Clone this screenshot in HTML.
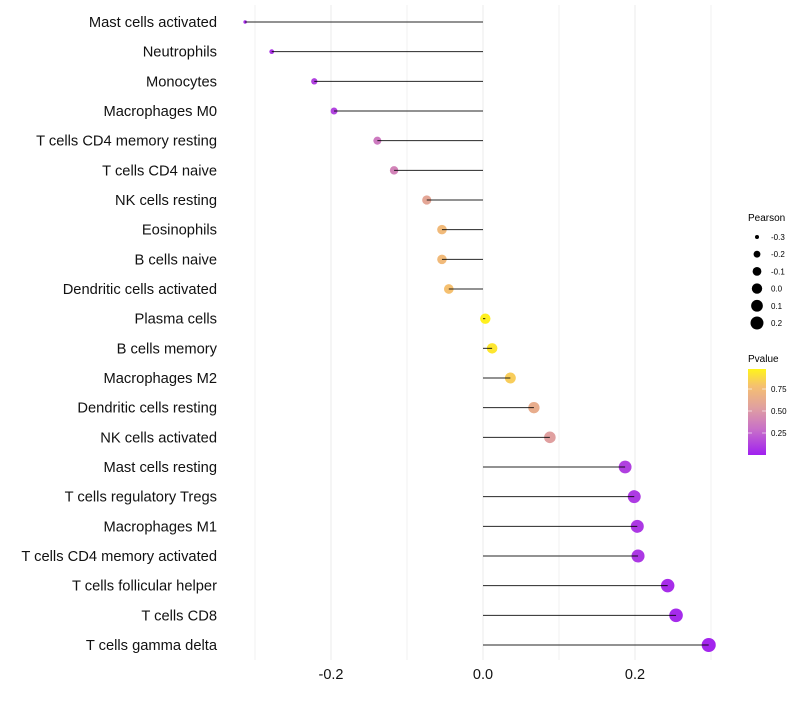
<!DOCTYPE html>
<html><head><meta charset="utf-8"><style>
body{margin:0;background:#fff;font-family:"Liberation Sans",sans-serif}
svg text{font-family:"Liberation Sans",sans-serif}
</style></head><body>
<svg id="chart" width="800" height="700" xmlns="http://www.w3.org/2000/svg">
<defs><linearGradient id="pg" x1="0" y1="1" x2="0" y2="0">
<stop offset="0" stop-color="#A020F0"/><stop offset="0.3" stop-color="#C870C8"/><stop offset="0.55" stop-color="#E0A0A0"/><stop offset="0.8" stop-color="#F5C070"/><stop offset="1" stop-color="#FFF31A"/></linearGradient></defs>
<g id="grid"></g>
<g id="marks"></g>
<g id="labels"></g>
<g id="xticks"></g>
<g id="sleg">
<text x="748" y="221" font-size="10">Pearson</text>
</g>
<g>
<text x="748" y="362" font-size="10">Pvalue</text>
<rect x="748" y="369" width="18" height="86" fill="url(#pg)"/>
<g id="cticks"></g>
</g>
</svg>
<script>
const categories=["Mast cells activated","Neutrophils","Monocytes","Macrophages M0","T cells CD4 memory resting","T cells CD4 naive","NK cells resting","Eosinophils","B cells naive","Dendritic cells activated","Plasma cells","B cells memory","Macrophages M2","Dendritic cells resting","NK cells activated","Mast cells resting","T cells regulatory  Tregs ","Macrophages M1","T cells CD4 memory activated","T cells follicular helper","T cells CD8","T cells gamma delta"];
const pearson=[-0.313,-0.278,-0.222,-0.196,-0.139,-0.117,-0.074,-0.054,-0.054,-0.045,0.003,0.012,0.036,0.067,0.088,0.187,0.199,0.203,0.204,0.243,0.254,0.297];
const pvalue=[0.05,0.08,0.12,0.13,0.35,0.4,0.6,0.75,0.75,0.8,0.99,0.95,0.85,0.65,0.55,0.12,0.1,0.09,0.09,0.05,0.04,0.02];
const xTicks=[-0.2,0.0,0.2];
const xMinor=[-0.3,-0.1,0.1,0.3];
const sizeLegend=[-0.3,-0.2,-0.1,0.0,0.1,0.2];
const colorTicks=[0.25,0.5,0.75];
const NS="http://www.w3.org/2000/svg";
const X=v=>483+v*760;
const Y=i=>22+i*(623/21);
const R=v=>Math.sqrt(Math.max(1,76.2*(v+0.3525)));
const stops=[[0,[160,32,240]],[0.3,[200,112,200]],[0.55,[224,160,160]],[0.8,[245,192,112]],[1,[255,243,26]]];
function col(p){for(let i=1;i<stops.length;i++){if(p<=stops[i][0]){const a=stops[i-1],b=stops[i],t=(p-a[0])/(b[0]-a[0]);return "rgb("+a[1].map((c,k)=>Math.round(c+(b[1][k]-c)*t)).join(",")+")";}}return "rgb(255,243,26)";}
function mk(t,a,p){const e=document.createElementNS(NS,t);for(const k in a)e.setAttribute(k,a[k]);p.appendChild(e);return e;}
const grid=document.getElementById('grid');
xMinor.forEach(v=>{const l=mk('line',{x1:X(v),x2:X(v),y1:5,y2:660,stroke:'#f2f2f2','stroke-width':1},grid);});
xTicks.forEach(v=>{const l=mk('line',{x1:X(v),x2:X(v),y1:5,y2:660,stroke:'#ebebeb','stroke-width':1},grid);});
const marks=document.getElementById('marks'),labels=document.getElementById('labels');
categories.forEach((c,i)=>{
 const c1=mk('circle',{cx:X(pearson[i]),cy:Y(i),r:R(pearson[i]),fill:col(pvalue[i])},marks);
 
 const l=mk('line',{x1:X(0),x2:X(pearson[i]),y1:Y(i),y2:Y(i),stroke:'#000','stroke-width':1,'stroke-opacity':0.85},marks);
 
 const t=mk('text',{x:217,y:Y(i)+5,'text-anchor':'end','font-size':14.7,fill:'#111'},labels);t.textContent=c;
 
});
const xt=document.getElementById('xticks');
xTicks.forEach(v=>{const t=mk('text',{x:X(v),y:679,'text-anchor':'middle','font-size':14.5,fill:'#111'},xt);t.textContent=v.toFixed(1);
 });
const sl=document.getElementById('sleg');
sizeLegend.forEach((v,i)=>{const y=237+i*17.2;
 const c=mk('circle',{cx:757,cy:y,r:R(v),fill:'#000'},sl);
 const t=mk('text',{x:771,y:y+3,'font-size':8},sl);t.textContent=v.toFixed(1);});
const ct=document.getElementById('cticks');
colorTicks.forEach(v=>{const y=455-v*88;
 const l=mk('line',{x1:748,x2:752,y1:y,y2:y,stroke:'#fff','stroke-width':0.6},ct);
 const l2=mk('line',{x1:762,x2:766,y1:y,y2:y,stroke:'#fff','stroke-width':0.6},ct);
 const t=mk('text',{x:771,y:y+3,'font-size':8},ct);t.textContent=v.toFixed(2);});
</script>
</body></html>
